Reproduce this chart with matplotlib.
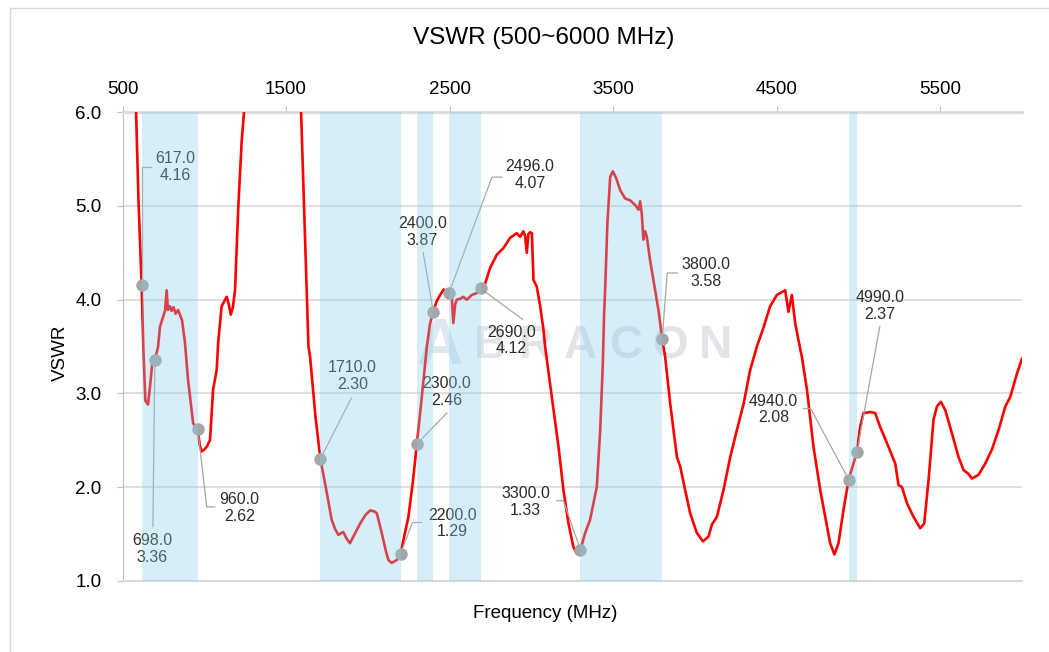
import numpy as np
import matplotlib
matplotlib.use("Agg")
import matplotlib.pyplot as plt
from matplotlib.lines import Line2D

plt.rcParams['font.family'] = ['Liberation Sans', 'DejaVu Sans']

# measured VSWR curve (MHz, VSWR)
freq = [575, 583, 598, 617, 628, 640, 656, 668, 682, 698, 717, 729, 745, 760, 770,
        778, 790, 800, 812, 825, 840, 864, 882, 901, 932, 960, 972, 984, 1000, 1015,
        1035, 1054, 1076, 1085, 1106, 1137, 1150, 1162, 1175, 1188, 1208, 1229, 1243, 1260,
        1570, 1592, 1637, 1647, 1680, 1710, 1749, 1779, 1800, 1820, 1850, 1870, 1891,
        1920, 1953, 1985, 2014, 2040, 2055, 2085, 2110, 2126, 2146, 2177, 2200, 2248,
        2275, 2300, 2330, 2361, 2380, 2400, 2420, 2442, 2465, 2480, 2496, 2513, 2523,
        2534, 2544, 2565, 2584, 2605, 2636, 2666, 2690, 2717, 2748, 2789, 2829, 2870,
        2911, 2931, 2951, 2962, 2972, 2982, 2992, 3003, 3013, 3033, 3054, 3074, 3084,
        3125, 3166, 3196, 3227, 3257, 3278, 3300, 3329, 3359, 3400, 3421, 3437, 3445,
        3451, 3465, 3482, 3498, 3518, 3543, 3573, 3604, 3635, 3655, 3665, 3675, 3685,
        3696, 3706, 3726, 3757, 3777, 3800, 3818, 3849, 3890, 3910, 3940, 3971, 4012,
        4049, 4083, 4104, 4134, 4175, 4216, 4257, 4298, 4338, 4379, 4419, 4460, 4501,
        4521, 4552, 4572, 4593, 4613, 4633, 4654, 4685, 4725, 4766, 4797, 4827, 4853,
        4878, 4909, 4940, 4990, 5010, 5031, 5072, 5102, 5133, 5174, 5225, 5245, 5266,
        5296, 5337, 5378, 5402, 5429, 5459, 5480, 5504, 5531, 5572, 5612, 5643, 5673,
        5694, 5734, 5775, 5816, 5857, 5898, 5928, 5969, 6000]
vswr = [6.3, 6.0, 5.05, 4.16, 3.45, 2.92, 2.88, 3.07, 3.32, 3.36, 3.49, 3.71, 3.80, 3.88, 4.10,
        3.89, 3.93, 3.88, 3.92, 3.85, 3.89, 3.78, 3.54, 3.14, 2.68, 2.62, 2.45, 2.38, 2.40, 2.43,
        2.50, 3.04, 3.25, 3.54, 3.93, 4.03, 3.95, 3.84, 3.92, 4.10, 4.99, 5.70, 6.0, 6.4,
        6.4, 6.0, 3.50, 3.39, 2.75, 2.30, 1.94, 1.65, 1.55, 1.49, 1.52, 1.45, 1.40,
        1.50, 1.61, 1.70, 1.75, 1.74, 1.72, 1.51, 1.32, 1.22, 1.19, 1.22, 1.29, 1.68,
        2.05, 2.46, 2.96, 3.50, 3.74, 3.87, 3.98, 4.05, 4.11, 4.06, 4.07, 4.03, 3.75,
        3.95, 4.00, 4.01, 4.03, 4.00, 4.05, 4.07, 4.12, 4.17, 4.34, 4.48, 4.55, 4.66,
        4.71, 4.67, 4.73, 4.68, 4.50, 4.70, 4.72, 4.71, 4.21, 4.14, 3.93, 3.68, 3.50,
        2.96, 2.43, 1.97, 1.61, 1.36, 1.29, 1.33, 1.51, 1.65, 2.00, 2.61, 3.32, 3.86,
        4.10, 4.82, 5.31, 5.37, 5.30, 5.17, 5.08, 5.06, 5.01, 4.96, 5.05, 4.92, 4.64,
        4.73, 4.67, 4.42, 4.10, 3.89, 3.58, 3.39, 2.89, 2.32, 2.22, 1.97, 1.72, 1.51,
        1.42, 1.47, 1.60, 1.68, 1.97, 2.32, 2.61, 2.89, 3.25, 3.50, 3.70, 3.93, 4.05,
        4.07, 4.10, 3.87, 4.05, 3.75, 3.57, 3.39, 3.04, 2.43, 1.97, 1.68, 1.40, 1.28,
        1.40, 1.76, 2.08, 2.37, 2.64, 2.79, 2.80, 2.79, 2.64, 2.47, 2.25, 2.02, 2.00,
        1.83, 1.68, 1.56, 1.61, 2.08, 2.72, 2.86, 2.91, 2.82, 2.57, 2.32, 2.18, 2.14,
        2.09, 2.13, 2.25, 2.40, 2.61, 2.86, 2.96, 3.21, 3.37]

# labelled markers
mark_freq = [617, 698, 960, 1710, 2200, 2300, 2400, 2496, 2690, 3300, 3800, 4940, 4990]
mark_vswr = [4.16, 3.36, 2.62, 2.30, 1.29, 2.46, 3.87, 4.07, 4.12, 1.33, 3.58, 2.08, 2.37]

# frequency bands (MHz)
band_lo = [617, 1710, 2300, 2496, 3300, 4940]
band_hi = [960, 2200, 2400, 2690, 3800, 4990]

# label placement: text centre offset and leader path, pixels from marker (y down)
text_off = [(34, -118), (-3, 189), (42, 79), (32, -83), (52, -30), (30, -52), (-11, -80),
            (81, -118), (31, 52), (-55, -48), (44, -66), (-75, -70), (23, -146)]
leader = [[(0, -118), (9, -118)], [(-2, 167)], [(9, 78), (17, 78)], [(31, -61)],
          [(12, -31), (21, -31)], [(30, -31)], [(-10, -59)], [(43, -116), (53, -116)],
          [(42, 31)], [(-17, -49), (-24, -49)], [(5, -66), (15, -66)],
          [(-38, -71), (-45, -71)], [(23, -126)]]

W, H = 1049, 652
fig = plt.figure(figsize=(W / 100, H / 100), dpi=100)
ax = fig.add_axes([122.5 / W, 1 - 580.7 / H, (1022 - 122.5) / W, (580.7 - 112.3) / H])
ax.set_xlim(500, 6000)
ax.set_ylim(1.0, 6.0)

ax.plot(freq, vswr, color='red', lw=1.9, zorder=3, solid_joinstyle='round')
ax.plot(mark_freq, mark_vswr, 'o', color='#a5a5a5', ms=8, zorder=4)

for lo, hi in zip(band_lo, band_hi):
    ax.axvspan(lo, hi, color='skyblue', alpha=0.33, lw=0, zorder=6)

# leaders and labels
inv = ax.transData.inverted()
for f, v, (tx, ty), path in zip(mark_freq, mark_vswr, text_off, leader):
    x0, y0 = ax.transData.transform((f, v))
    pts = [(x0, y0)] + [(x0 + dx, y0 - dy) for dx, dy in path]
    d = inv.transform(pts)
    ax.plot(d[:, 0], d[:, 1], color='#a6a6a6', lw=0.9, zorder=4, clip_on=False)
    ax.annotate(f"{f:.1f}\n{v:.2f}", xy=(f, v), xytext=(tx, -ty), textcoords='offset pixels',
                ha='center', va='center', fontsize=11.5, color='#2b2b2b',
                linespacing=1.15, zorder=5)

# faint watermark
ax.text(0.352, 0.50, "A", transform=ax.transAxes, fontsize=46, fontweight='bold',
        color='#dde8f5', ha='center', va='center', zorder=1)
for i, ch in enumerate("BRACON"):
    ax.text(0.409 + i * 0.050, 0.50, ch, transform=ax.transAxes, fontsize=33,
            fontweight='bold', color='#e2e4ea', ha='center', va='center', zorder=1)

ax.xaxis.tick_top()
ax.set_xticks([500, 1500, 2500, 3500, 4500, 5500])
ax.set_yticks([1, 2, 3, 4, 5, 6])
ax.set_yticklabels([f"{t:.1f}" for t in [1, 2, 3, 4, 5, 6]])
ax.tick_params(axis='x', length=4, color='#bfbfbf', labelsize=13.5, pad=6)
ax.tick_params(axis='y', length=4, color='#bfbfbf', labelsize=13.5, pad=11)
ax.yaxis.grid(True, color='#d9d9d9', lw=1.2, zorder=0)
ax.set_axisbelow(True)
ax.spines['right'].set_visible(False)
ax.spines['left'].set_color('#bfbfbf')
ax.spines['top'].set_color('#d9d9d9')
ax.spines['top'].set_linewidth(2)
ax.spines['bottom'].set_color('#d9d9d9')
ax.spines['bottom'].set_linewidth(1.5)

fig.text(544 / W, 1 - 38 / H, "VSWR (500~6000 MHz)", ha='center', va='center', fontsize=17.5)
fig.text(545 / W, 1 - 613 / H, "Frequency (MHz)", ha='center', va='center', fontsize=13.5)
fig.text(60 / W, 1 - 353 / H, "VSWR", ha='center', va='center', rotation=90, fontsize=13.5)

# chart border (only left/top visible in frame)
fig.add_artist(Line2D([10 / W, 10 / W], [1 - 8 / H, 0], transform=fig.transFigure,
                      color='#d9d9d9', lw=1))
fig.add_artist(Line2D([10 / W, 1], [1 - 8 / H, 1 - 8 / H], transform=fig.transFigure,
                      color='#d9d9d9', lw=1))

fig.savefig("out.png", dpi=100)
